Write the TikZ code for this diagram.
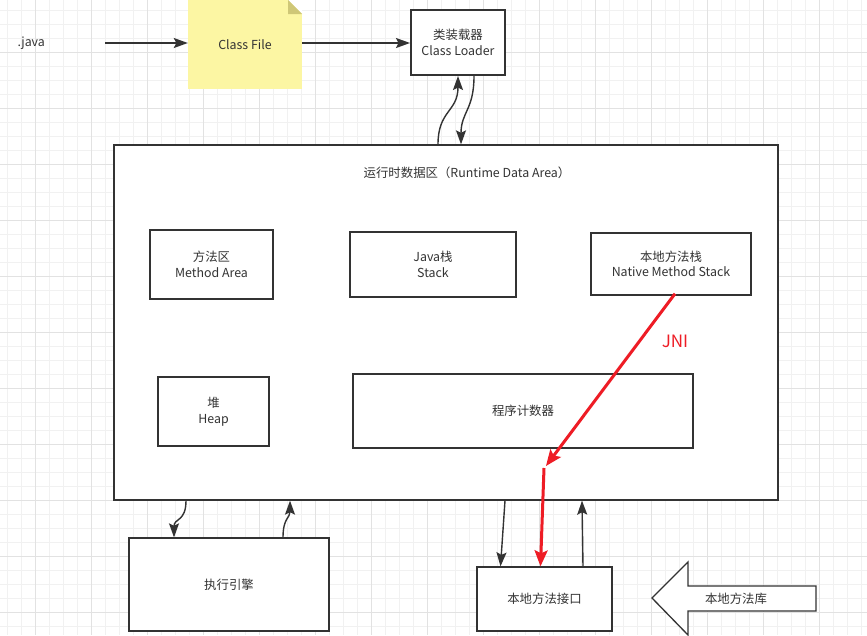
\documentclass[tikz,border=0pt]{standalone}
\usepackage{fontspec}
\setmainfont{Noto Sans CJK SC}
\usetikzlibrary{arrows.meta,calc}
\definecolor{txt}{HTML}{333333}
\definecolor{ln}{HTML}{333333}
\definecolor{note}{HTML}{FCF6A3}
\definecolor{fold}{HTML}{CFC777}
\definecolor{jred}{HTML}{EE1C25}
\definecolor{gmin}{HTML}{F1F1F1}
\definecolor{gmaj}{HTML}{E2E2E2}
\begin{document}
\begin{tikzpicture}[x=1pt,y=-1pt,
  every node/.style={font=\fontsize{12.4}{15.5}\selectfont, text=txt},
  box/.style={draw=ln, line width=1.3pt, fill=white, align=center, inner sep=0pt},
  conn/.style={draw=ln, line width=1.4pt, -{Stealth[length=14pt,width=10pt,inset=2.5pt]}},
  redconn/.style={draw=jred, line width=3pt, -{Stealth[length=16pt,width=13pt,inset=3pt]}}]
\useasboundingbox (0,0) rectangle (867,635);
\fill[white] (0,0) rectangle (867,635);
% grid
\foreach \i in {0,...,61} {\draw[gmin, line width=0.6pt] (7.7+14*\i,0) -- (7.7+14*\i,635);}
\foreach \i in {0,...,45} {\draw[gmin, line width=0.6pt] (0,10+14*\i) -- (867,10+14*\i);}
\foreach \i in {0,...,15} {\draw[gmaj, line width=0.8pt] (35.7+56*\i,0) -- (35.7+56*\i,635);}
\foreach \i in {0,...,11} {\draw[gmaj, line width=0.8pt] (0,-4+56*\i) -- (867,-4+56*\i);}
% top row
\node[anchor=west] (java) at (14,43) {.java};
\coordinate (javaend) at (105,43);
\node[fill=note, minimum width=114pt, minimum height=89pt, inner sep=0pt] (cf) at (245,44.5) {Class File};
\fill[white] (288,0) -- (302,0) -- (302,14) -- cycle;
\fill[fold] (288,0) -- (302,14) -- (288,14) -- cycle;
\node[box, line width=2pt, minimum width=94pt, minimum height=65pt] (loader) at (458,42.5) {类装载器\\Class Loader};
\draw[conn] (javaend) -- (javaend -| cf.west);
\draw[conn] (cf.east |- javaend) -- (javaend -| loader.west);
% runtime data area
\node[box, minimum width=664pt, minimum height=355pt] (rt) at (446,322.5) {};
\node (rttitle) at (467,173) {运行时数据区（Runtime Data Area）};
\node[box, minimum width=123pt, minimum height=69pt] (ma) at (211.5,264.5) {方法区\\Method Area};
\node[box, minimum width=166pt, minimum height=65pt] (stack) at (433,264.5) {Java栈\\Stack};
\node[box, minimum width=160pt, minimum height=62pt] (nms) at (671,264) {本地方法栈\\Native Method Stack};
\node[box, minimum width=111pt, minimum height=69pt] (heap) at (213.5,411.5) {堆\\Heap};
\node[box, minimum width=340pt, minimum height=74pt] (pc) at (523,411) {程序计数器};
% bottom
\node[box, minimum width=200pt, minimum height=93pt] (engine) at (229,584.5) {执行引擎};
\node[box, minimum width=135pt, minimum height=64pt] (nif) at (544.5,599) {本地方法接口};
\draw[ln, line width=1.3pt, fill=white] (652,598) -- (688,562) -- (688,586) -- (816,586) -- (816,611) -- (688,611) -- (688,635) -- cycle;
\node (lib) at (736,598.5) {本地方法库};
% loader <-> runtime
\draw[conn] ([xshift=-8pt]rt.north) .. controls (438,110) and (458,112) .. (loader.south);
\draw[conn] ([xshift=16pt]loader.south) .. controls (474,110) and (461,112) .. ([xshift=15pt]rt.north);
% runtime <-> engine
\draw[conn] ([xshift=-260pt]rt.south) .. controls (186,522) and (174,518) .. ([xshift=-55pt]engine.north);
\draw[conn] ([xshift=54pt]engine.north) .. controls (283,518) and (290,518) .. ([xshift=-156pt]rt.south);
% runtime <-> native interface
\draw[conn] ([xshift=59pt]rt.south) -- ([xshift=-44pt]nif.north);
\draw[conn] ([xshift=38.5pt]nif.north) -- ([xshift=136pt]rt.south);
% JNI
\coordinate (jni1) at (546,466);
\coordinate (jni2) at (544,468);
\draw[redconn] ([xshift=4pt,yshift=2pt]nms.south) -- (jni1);
\draw[redconn] (jni2) -- ([xshift=-4pt]nif.north);
\node[text=jred, font=\fontsize{17}{20}\selectfont] (jni) at (675,341) {JNI};
\end{tikzpicture}
\end{document}
